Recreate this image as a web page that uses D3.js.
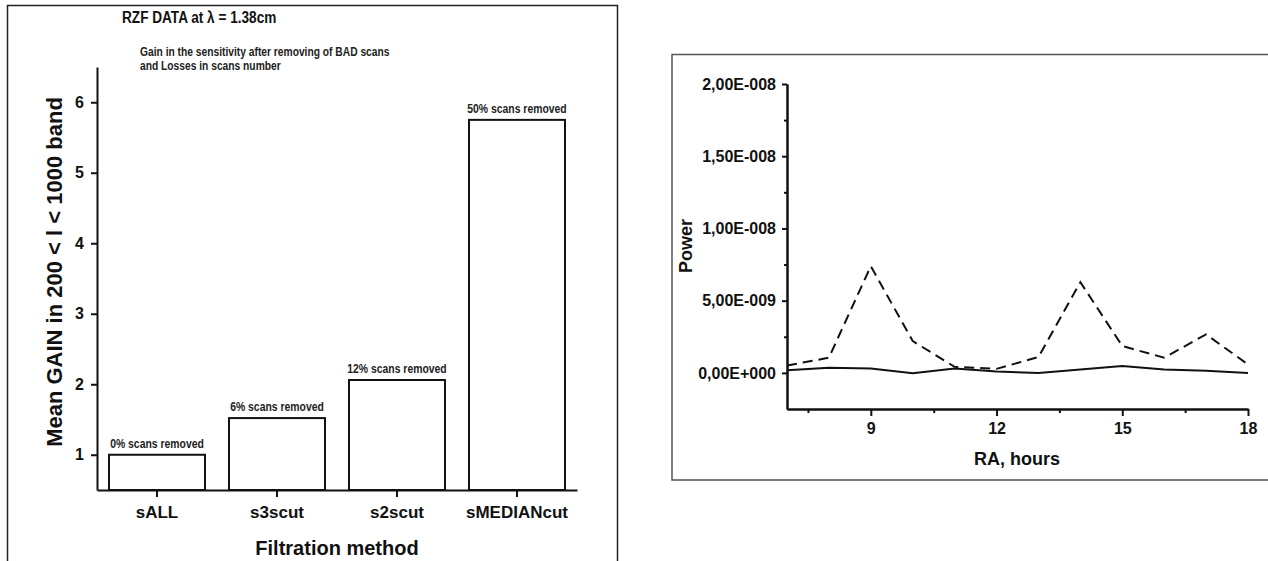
<!DOCTYPE html>
<html>
<head>
<meta charset="utf-8">
<script src="https://cdn.jsdelivr.net/npm/d3@7"></script>
<style>
  body { margin: 0; background: #fff; }
  svg { display: block; font-family: "Liberation Sans", Arial, sans-serif; }
</style>
</head>
<body>
<script>
// left chart: gain after removing bad scans
var gainCategories = ["sALL", "s3scut", "s2scut", "sMEDIANcut"]
var gainValues = [1.0, 1.52, 2.06, 5.75]
var removedLabels = ["0% scans removed", "6% scans removed", "12% scans removed", "50% scans removed"]
var gainTicks = [1, 2, 3, 4, 5, 6]

// right chart: power vs RA
var raHours = [7, 8, 9, 10, 11, 12, 13, 14, 15, 16, 17, 18]
var powerDashed = [5.1e-10, 1.05e-9, 7.39e-9, 2.2e-9, 4.2e-10, 2.8e-10, 1.1e-9, 6.28e-9, 1.86e-9, 1.05e-9, 2.67e-9, 5.8e-10]
var powerSolid = [1.8e-10, 3.5e-10, 3.0e-10, -3e-11, 3.0e-10, 9e-11, 0, 2.3e-10, 4.7e-10, 2.3e-10, 1.5e-10, 0]
var raTicks = [9, 12, 15, 18]
var raMinorTicks = [7.5, 10.5, 13.5, 16.5]
var powerTicks = [0, 5e-9, 1e-8, 1.5e-8, 2e-8]
var powerTickLabels = ["0,00E+000", "5,00E-009", "1,00E-008", "1,50E-008", "2,00E-008"]
var powerMinorTicks = [2.5e-9, 7.5e-9, 1.25e-8, 1.75e-8]

var w = 1268
var h = 561

var svg = d3.select("body").append("svg")
    .attr("width", w)
    .attr("height", h)

// squeeze text horizontally, no narrow font is installed
function narrow(sel, factor) {
    sel.each(function () {
        var len = this.getComputedTextLength()
        d3.select(this)
            .attr("textLength", len * factor)
            .attr("lengthAdjust", "spacingAndGlyphs")
    })
}

// ---------- left panel ----------
svg.append("rect")
    .attr("x", 7.5).attr("y", 5.5)
    .attr("width", 610).attr("height", 600)
    .attr("fill", "none").attr("stroke", "#222").attr("stroke-width", 1.5)

svg.append("text")
    .attr("x", 122).attr("y", 23)
    .style("font-size", "16px").style("font-weight", "bold").attr("fill", "#111")
    .text("RZF DATA at λ = 1.38cm")
    .call(narrow, 0.85)

svg.append("text")
    .attr("x", 140).attr("y", 56)
    .style("font-size", "12.5px").style("font-weight", "bold").attr("fill", "#222")
    .text("Gain in the sensitivity after removing of BAD scans")
    .call(narrow, 0.82)
svg.append("text")
    .attr("x", 140).attr("y", 70)
    .style("font-size", "12.5px").style("font-weight", "bold").attr("fill", "#222")
    .text("and Losses in scans number")
    .call(narrow, 0.82)

var x1 = d3.scaleBand()
    .domain(gainCategories)
    .range([97, 577])
    .paddingInner(0.2)
    .paddingOuter(0.1)

var y1 = d3.scaleLinear()
    .domain([0.5, 6.5])
    .range([490, 67])

var gx1 = svg.append("g")
    .attr("transform", "translate(0," + y1(0.5) + ")")
    .call(d3.axisBottom(x1).tickSize(7).tickSizeOuter(0))
gx1.selectAll("text")
    .attr("y", 28).attr("dy", 0)
    .style("font-size", "17px").style("font-weight", "bold").attr("fill", "#111")

var gy1 = svg.append("g")
    .attr("transform", "translate(" + x1.range()[0] + ",0)")
    .call(d3.axisLeft(y1).tickValues(gainTicks).tickFormat(d3.format("d")).tickSize(6).tickSizeOuter(0))
gy1.selectAll("text")
    .attr("x", -13)
    .style("font-size", "16px").style("font-weight", "bold").attr("fill", "#111")

svg.selectAll(".domain, .tick line").attr("stroke", "#111").attr("stroke-width", 2)

svg.selectAll("rect.bar")
    .data(gainValues)
    .enter()
    .append("rect")
    .attr("class", "bar")
    .attr("x", function (d, i) { return x1(gainCategories[i]) })
    .attr("y", function (d) { return y1(d) })
    .attr("width", x1.bandwidth())
    .attr("height", function (d) { return y1(0.5) - y1(d) })
    .attr("fill", "#fff")
    .attr("stroke", "#111")
    .attr("stroke-width", 2)

svg.selectAll("text.barlabel")
    .data(gainValues)
    .enter()
    .append("text")
    .attr("class", "barlabel")
    .attr("x", function (d, i) { return x1(gainCategories[i]) + x1.bandwidth() / 2 })
    .attr("y", function (d) { return y1(d) - 7 })
    .attr("text-anchor", "middle")
    .style("font-size", "13px").style("font-weight", "bold").attr("fill", "#222")
    .text(function (d, i) { return removedLabels[i] })
    .call(narrow, 0.8)

svg.append("text")
    .attr("transform", "translate(62,272) rotate(-90)")
    .attr("text-anchor", "middle")
    .style("font-size", "22px").style("font-weight", "bold").attr("fill", "#111")
    .text("Mean GAIN in 200 < l < 1000 band")

svg.append("text")
    .attr("x", 337).attr("y", 555)
    .attr("text-anchor", "middle")
    .style("font-size", "20px").style("font-weight", "bold").attr("fill", "#111")
    .text("Filtration method")

// ---------- right panel ----------
svg.append("rect")
    .attr("x", 672).attr("y", 54.5)
    .attr("width", 620).attr("height", 425.5)
    .attr("fill", "none").attr("stroke", "#555").attr("stroke-width", 1.5)

var x2 = d3.scaleLinear()
    .domain([7, 18])
    .range([787, 1248])

var y2 = d3.scaleLinear()
    .domain([-2.5e-9, 2e-8])
    .range([409, 84])

var right = svg.append("g")

var gx2 = right.append("g")
    .attr("transform", "translate(0," + y2(-2.5e-9) + ")")
    .call(d3.axisBottom(x2).tickValues(raTicks).tickFormat(d3.format("d")).tickSize(7).tickSizeOuter(0))
gx2.selectAll("text")
    .attr("y", 24.5).attr("dy", 0)
    .style("font-size", "16px").style("font-weight", "bold").attr("fill", "#111")
right.append("g")
    .attr("transform", "translate(0," + y2(-2.5e-9) + ")")
    .call(d3.axisBottom(x2).tickValues(raMinorTicks).tickFormat("").tickSize(4).tickSizeOuter(0))

var gy2 = right.append("g")
    .attr("transform", "translate(" + x2(7) + ",0)")
    .call(d3.axisLeft(y2).tickValues(powerTicks)
        .tickFormat(function (d, i) { return powerTickLabels[i] })
        .tickSize(5).tickSizeOuter(0))
gy2.selectAll("text")
    .attr("x", -11)
    .style("font-size", "16px").style("font-weight", "bold").attr("fill", "#111")
right.append("g")
    .attr("transform", "translate(" + x2(7) + ",0)")
    .call(d3.axisLeft(y2).tickValues(powerMinorTicks).tickFormat("").tickSize(3).tickSizeOuter(0))

right.selectAll(".domain, .tick line").attr("stroke", "#111").attr("stroke-width", 2)

var line = d3.line()
    .x(function (d, i) { return x2(raHours[i]) })
    .y(function (d) { return y2(d) })

right.append("path")
    .attr("d", line(powerDashed))
    .attr("fill", "none").attr("stroke", "#111").attr("stroke-width", 2)
    .attr("stroke-dasharray", "10,6")

right.append("path")
    .attr("d", line(powerSolid))
    .attr("fill", "none").attr("stroke", "#111").attr("stroke-width", 2)

svg.append("text")
    .attr("transform", "translate(692,246) rotate(-90)")
    .attr("text-anchor", "middle")
    .style("font-size", "18px").style("font-weight", "bold").attr("fill", "#111")
    .text("Power")

svg.append("text")
    .attr("x", 1017).attr("y", 465)
    .attr("text-anchor", "middle")
    .style("font-size", "18px").style("font-weight", "bold").attr("fill", "#111")
    .text("RA, hours")
</script>
</body>
</html>
